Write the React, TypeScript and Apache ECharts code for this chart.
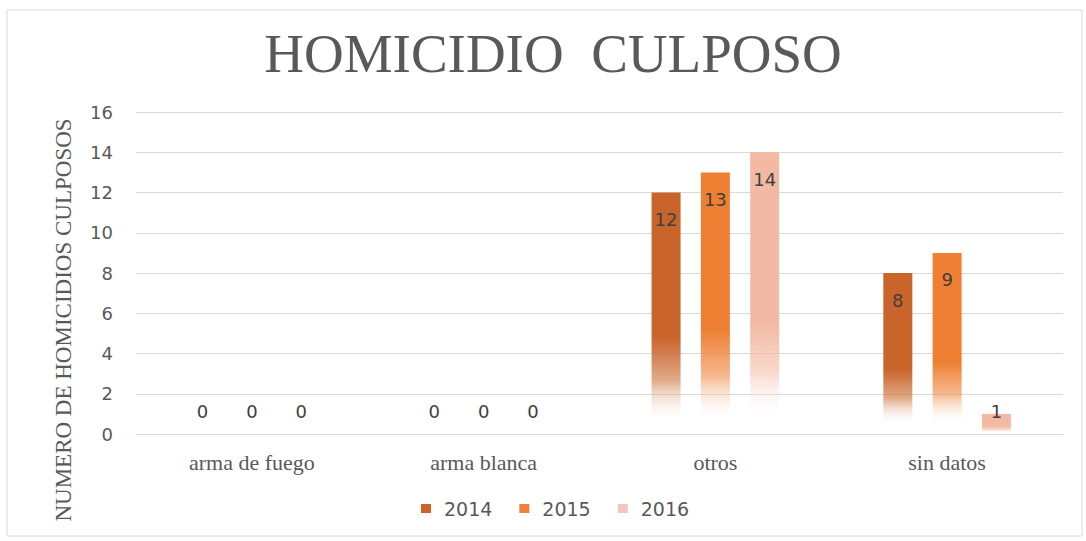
import React, { useEffect, useRef } from "react";
import * as echarts from "echarts";

const categories = ["arma de fuego", "arma blanca", "otros", "sin datos"];
const years = ["2014", "2015", "2016"];
const values2014 = [0, 0, 12, 8];
const values2015 = [0, 0, 13, 9];
const values2016 = [0, 0, 14, 1];
const yTicks = [0, 2, 4, 6, 8, 10, 12, 14, 16];
const titleText = "HOMICIDIO  CULPOSO";
const yAxisTitle = "NUMERO DE HOMICIDIOS CULPOSOS";

const colors = ["#C9652B", "#EE7F33", "#F3B9A3"];
const legendColors = ["#CB6426", "#EE8236", "#F6C4C0"];

function fade(c: string) {
  return new echarts.graphic.LinearGradient(0, 0, 0, 1, [
    { offset: 0, color: c },
    { offset: 0.6, color: c },
    { offset: 0.78, color: echarts.color.modifyAlpha(c, 0.55) as string },
    { offset: 0.95, color: "rgba(255,255,255,0)" },
    { offset: 1, color: "rgba(255,255,255,0)" },
  ]);
}

export default function App() {
  const ref = useRef<HTMLDivElement>(null);
  useEffect(() => {
    document.body.style.margin = "0";
    const chart = echarts.init(ref.current!, undefined, { renderer: "svg" });
    const series = [values2014, values2015, values2016].map((vals, i) => ({
      name: years[i],
      type: "bar",
      barWidth: 29,
      barGap: "70%",
      itemStyle: { color: fade(colors[i]) },
      label: {
        show: true,
        position: "insideTop",
        distance: 18,
        color: "#404040",
        fontFamily: "DejaVu Sans",
        fontSize: 18,
      },
      data: vals.map((v) => ({
        value: v,
        label: v < 2 ? { position: "insideBottom", distance: 14 } : {},
      })),
    }));
    chart.setOption({
      animation: false,
      backgroundColor: "#ffffff",
      title: {
        text: titleText,
        left: 548,
        textAlign: "center",
        top: 21,
        textStyle: {
          fontFamily: "Liberation Serif",
          fontWeight: "normal",
          fontSize: 55,
          color: "#595959",
        },
      },
      graphic: [
        {
          type: "rect",
          shape: { x: 7, y: 10, width: 1075, height: 526 },
          style: { fill: "none", stroke: "#D9D9D9", lineWidth: 1 },
          silent: true,
        },
        {
          type: "text",
          x: 63,
          y: 320,
          rotation: Math.PI / 2,
          style: {
            text: yAxisTitle,
            fontFamily: "Liberation Serif",
            fontSize: 23,
            fill: "#595959",
            align: "center",
            verticalAlign: "middle",
          },
          silent: true,
        },
      ],
      legend: {
        data: years.map((y, i) => ({ name: y, itemStyle: { color: legendColors[i] } })),
        left: 416,
        top: 494,
        itemWidth: 10,
        itemHeight: 9,
        itemGap: 27,
        icon: "rect",
        textStyle: {
          fontFamily: "DejaVu Sans",
          fontSize: 19,
          color: "#595959",
          padding: [0, 0, 0, 8],
        },
      },
      grid: { left: 136, right: 23, top: 112, bottom: 107 },
      xAxis: {
        type: "category",
        data: categories,
        axisLine: { lineStyle: { color: "#D9D9D9" } },
        axisTick: { show: false },
        axisLabel: {
          fontFamily: "Liberation Serif",
          fontSize: 22,
          color: "#595959",
          margin: 17,
        },
      },
      yAxis: {
        type: "value",
        min: yTicks[0],
        max: yTicks[yTicks.length - 1],
        interval: 2,
        axisLine: { show: false },
        axisTick: { show: false },
        splitLine: { lineStyle: { color: "#D9D9D9" } },
        axisLabel: {
          fontFamily: "DejaVu Sans",
          fontSize: 18,
          color: "#595959",
          margin: 23,
        },
      },
      series,
    });
    return () => chart.dispose();
  }, []);
  return <div ref={ref} style={{ width: 1086, height: 541 }} />;
}
